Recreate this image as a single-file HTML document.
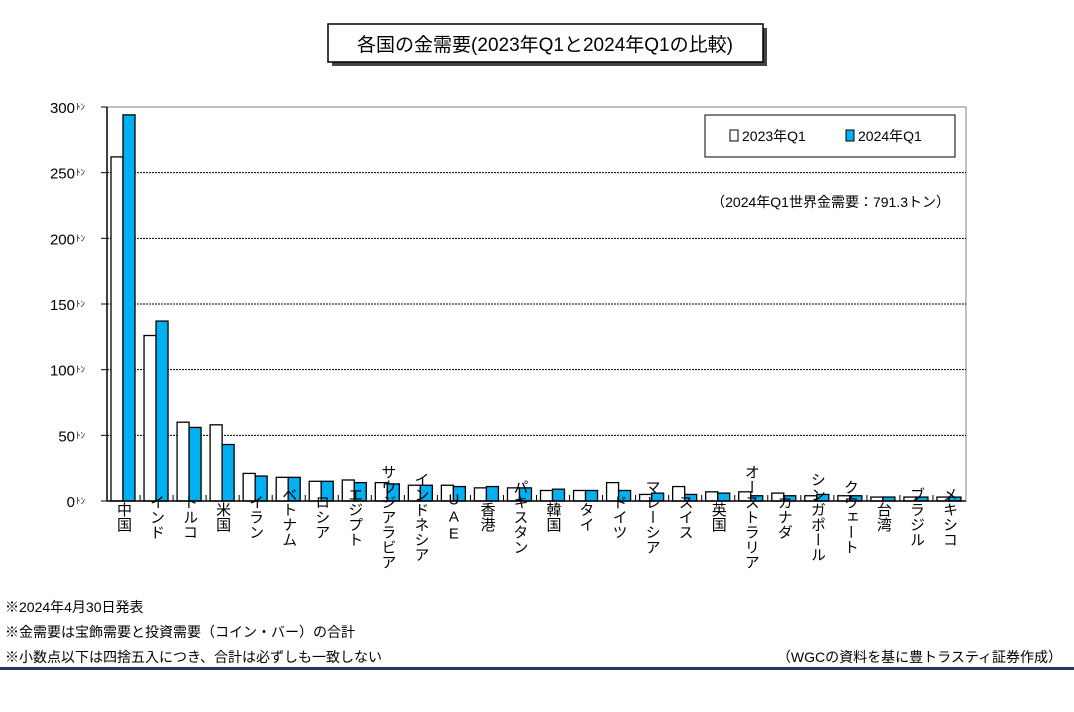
<!DOCTYPE html>
<html><head><meta charset="utf-8"><style>
body{margin:0;background:#fff;}
svg text{font-family:"Liberation Sans","Noto Sans CJK JP",sans-serif;}
</style></head><body>
<svg id="c" width="1074" height="707" xmlns="http://www.w3.org/2000/svg">
<rect x="332" y="28" width="435" height="38" fill="#444"/>
<rect x="328" y="24" width="435" height="38" fill="#fff" stroke="#000" stroke-width="1.5"/>
<text x="545" y="51" font-size="19" text-anchor="middle">各国の金需要(2023年Q1と2024年Q1の比較)</text>
<g id="plot"></g>
<rect x="705" y="115" width="250" height="42" fill="#fff" stroke="#000"/>
<rect x="730" y="130" width="8" height="11" fill="#fff" stroke="#000"/>
<text x="742" y="141" font-size="14">2023年Q1</text>
<rect x="846" y="130" width="8" height="11" fill="#00b0f0" stroke="#000"/>
<text x="858" y="141" font-size="14">2024年Q1</text>
<text x="950" y="207" font-size="14" text-anchor="end">（2024年Q1世界金需要：791.3トン）</text>
<text x="5" y="612" font-size="14">※2024年4月30日発表</text>
<text x="5" y="637" font-size="14">※金需要は宝飾需要と投資需要（コイン・バー）の合計</text>
<text x="5" y="662" font-size="14">※小数点以下は四捨五入につき、合計は必ずしも一致しない</text>
<text x="1062" y="662" font-size="14" text-anchor="end">（WGCの資料を基に豊トラスティ証券作成）</text>
<rect x="0" y="667" width="1074" height="3" fill="#1f3864"/>
</svg>
<script>
const categories=["中国","インド","トルコ","米国","イラン","ベトナム","ロシア","エジプト","サウジアラビア","インドネシア","UAE","香港","パキスタン","韓国","タイ","ドイツ","マレーシア","スイス","英国","オーストラリア","カナダ","シンガポール","クウェート","台湾","ブラジル","メキシコ"];
const values2023=[262,126,60,58,21,18,15,16,14,12,12,10,10,8,8,14,5,11,7,7,6,4,4,3,3,3];
const values2024=[294,137,56,43,19,18,15,14,13,12,11,11,10,9,8,8,6,5,6,4,4,5,4,3,3,3];
const yTicks=[0,50,100,150,200,250,300];
const NS="http://www.w3.org/2000/svg";
const L=107,R=966,T=107,B=501,yMax=300;
const y=v=>B-(v/yMax)*(B-T);
const gw=(R-L)/categories.length;
const g=document.getElementById('plot');
function mk(t,a){const e=document.createElementNS(NS,t);for(const k in a)e.setAttribute(k,a[k]);g.appendChild(e);return e;}
let e;
e=mk('rect',{x:L,y:T,width:R-L,height:B-T,fill:'#fff',stroke:'#808080'});


yTicks.forEach(t=>{
 if(t>0&&t<yMax){e=mk('line',{x1:L,x2:R,y1:y(t),y2:y(t),stroke:'#000','stroke-dasharray':'2,1','stroke-width':1});
 
 }
 e=mk('line',{x1:L-6,x2:L,y1:y(t),y2:y(t),stroke:'#000'});
 
 
 e=mk('text',{x:L-32,y:y(t)+6,'font-size':15,'text-anchor':'end'});
 e.textContent=t;
 
 
 e=mk('text',{x:L-31,y:y(t)+3,'font-size':9});
 e.textContent='ﾄﾝ';
 
 
});
categories.forEach((c,i)=>{
 const x0=L+i*gw;
 e=mk('rect',{x:x0+4,y:y(values2023[i]),width:12,height:B-y(values2023[i]),fill:'#fff',stroke:'#000','stroke-width':1.3});
 
 
 e=mk('rect',{x:x0+16,y:y(values2024[i]),width:12,height:B-y(values2024[i]),fill:'#00b0f0',stroke:'#000','stroke-width':1.3});
 
 
 if(i>0){e=mk('line',{x1:x0,x2:x0,y1:B-6,y2:B,stroke:'#000'});
 
 }
 e=mk('text',{x:x0+gw/2,y:B+16,'font-size':15,'text-anchor':'middle','writing-mode':'tb','glyph-orientation-vertical':0});
 e.setAttribute('style','writing-mode:vertical-rl;text-orientation:upright;');
 e.textContent=c;
 
 
});
e=mk('line',{x1:L,x2:R,y1:B,y2:B,stroke:'#000','stroke-width':1.5});


e=mk('line',{x1:L,x2:L,y1:T,y2:B,stroke:'#000','stroke-width':1.5});


</script>
</body></html>
